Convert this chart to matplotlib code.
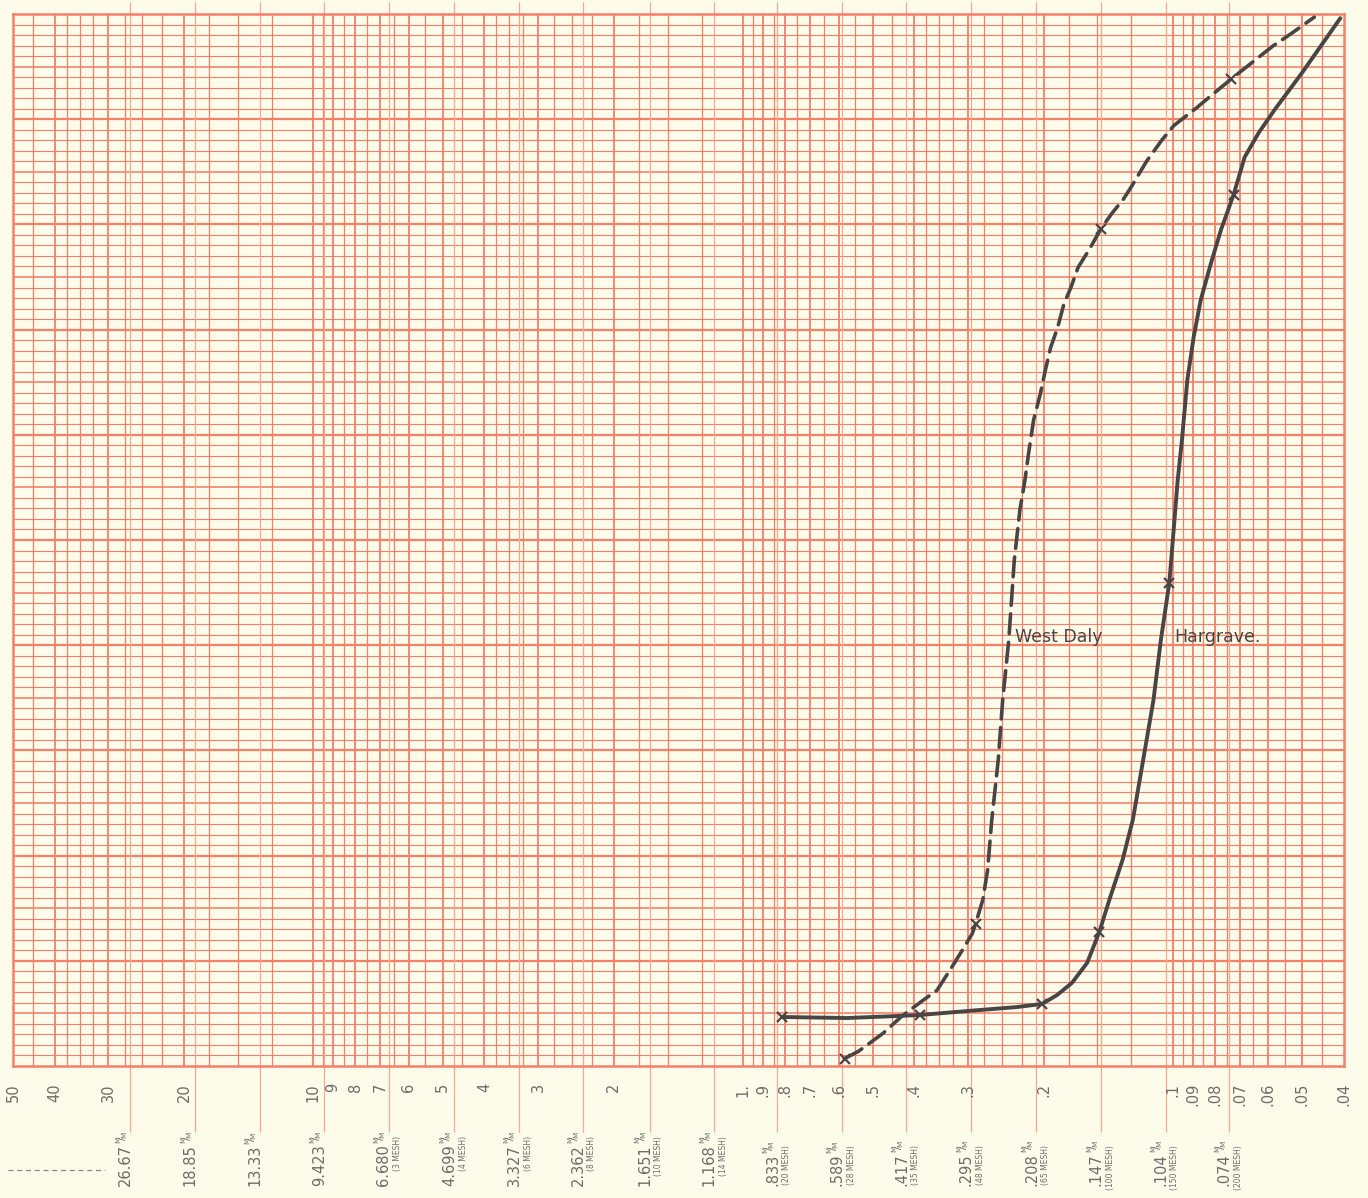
import numpy as np
import matplotlib
matplotlib.use("Agg")
import matplotlib.pyplot as plt
from matplotlib import font_manager as fm

# cumulative % passing vs. particle size (mm)
wd_size = [0.581, 0.539, 0.473, 0.427, 0.380, 0.354, 0.327, 0.306, 0.293, 0.288,
           0.277, 0.270, 0.264, 0.255, 0.249, 0.241, 0.234, 0.227, 0.221, 0.217,
           0.211, 0.2035, 0.198, 0.1926, 0.1855, 0.1795, 0.1728, 0.1663, 0.1567, 0.147,
           0.139, 0.1304, 0.1249, 0.1152, 0.1062, 0.0995, 0.088, 0.0812, 0.0733, 0.0654,
           0.0588, 0.0528, 0.0469]
wd_pct = [0.7, 1.4, 3.1, 4.75, 6.3, 7.2, 9.4, 11.3, 12.6, 13.5,
          15.8, 18.6, 23.4, 29.1, 34.8, 40.5, 48.1, 52.9, 55.7, 58.1,
          61.4, 63.9, 66.2, 68.3, 70.2, 72.4, 74.0, 75.9, 77.6, 79.6,
          81.0, 82.4, 83.6, 86.0, 88.0, 89.4, 91.1, 92.3, 93.8, 95.4,
          96.9, 98.2, 99.7]
wd_mark_size = [0.581, 0.288, 0.147, 0.0733]
wd_mark_pct = [0.7, 13.5, 79.6, 93.8]

hg_size = [0.813, 0.574, 0.439, 0.388, 0.286, 0.231, 0.2017, 0.186, 0.1718, 0.1584,
           0.1485, 0.1406, 0.131, 0.124, 0.1173, 0.111, 0.1067, 0.102, 0.0992, 0.0975,
           0.0953, 0.0926, 0.0895, 0.0862, 0.0816, 0.0773, 0.0723, 0.0681, 0.0632, 0.0580,
           0.0501, 0.0408]
hg_pct = [4.66, 4.56, 4.75, 4.85, 5.3, 5.6, 5.9, 6.75, 7.9, 9.8,
          12.7, 15.8, 19.6, 23.4, 29.1, 34.8, 40.5, 45.9, 51.9, 55.7,
          59.5, 65.2, 69.3, 72.8, 76.3, 79.5, 82.8, 86.4, 88.7, 90.9,
          94.4, 99.6]
hg_mark_size = [0.813, 0.388, 0.2017, 0.1485, 0.102, 0.0723]
hg_mark_pct = [4.66, 4.85, 5.9, 12.7, 45.9, 82.8]

# scale labels printed along the bottom of the paper
scale_vals = [50, 40, 30, 20, 10, 9, 8, 7, 6, 5, 4, 3, 2, 1, .9, .8, .7, .6, .5, .4,
              .3, .2, .1, .09, .08, .07, .06, .05, .04]
scale_text = ["50", "40", "30", "20", "10", "9", "8", "7", "6", "5", "4", "3", "2", "1.",
              ".9", ".8", ".7", ".6", ".5", ".4", ".3", ".2", ".1", ".09", ".08", ".07",
              ".06", ".05", ".04"]
mesh_vals = [26.67, 18.85, 13.33, 9.423, 6.680, 4.699, 3.327, 2.362, 1.651, 1.168,
             .833, .589, .417, .295, .208, .147, .104, .074]
mesh_text = ["26.67", "18.85", "13.33", "9.423", "6.680", "4.699", "3.327", "2.362",
             "1.651", "1.168", ".833", ".589", ".417", ".295", ".208", ".147", ".104", ".074"]
mesh_sub = ["", "", "", "", "(3 MESH)", "(4 MESH)", "(6 MESH)", "(8 MESH)", "(10 MESH)",
            "(14 MESH)", "(20 MESH)", "(28 MESH)", "(35 MESH)", "(48 MESH)", "(65 MESH)",
            "(100 MESH)", "(150 MESH)", "(200 MESH)"]

paper = "#fdfbea"
red = "#f4806a"
red_light = "#f7a893"
ink = "#4a4545"
print_grey = "#6e6c68"

try:
    fm.findfont("Liberation Sans Narrow", fallback_to_default=False)
    num_font = "Liberation Sans Narrow"
    num_size = 13.5
except Exception:
    num_font = "DejaVu Sans"
    num_size = 10.5

W, H = 1368, 1198
fig = plt.figure(figsize=(W / 100, H / 100), dpi=100, facecolor=paper)
ax = fig.add_axes([13 / W, (H - 1066) / H, 1331 / W, 1052 / H])
ax.set_facecolor(paper)
ax.set_xscale("log")
ax.set_xlim(50, 0.04)
ax.set_ylim(0, 100)
ax.set_xticks([])
ax.set_yticks([])
ax.minorticks_off()
for sp in ax.spines.values():
    sp.set_color(red)
    sp.set_linewidth(1.8)

# log-paper vertical rulings
grid_x = []
for dec in [0.01, 0.1, 1, 10]:
    for m in list(np.arange(1, 4, 0.25)) + list(np.arange(4, 10, 0.5)):
        v = round(m * dec, 6)
        if 0.04 < v < 50:
            grid_x.append(v)
major_x = [v for v in grid_x if v in scale_vals]
minor_x = [v for v in grid_x if v not in scale_vals]
ax.vlines(minor_x, 0, 100, color=red, lw=0.9, zorder=1)
ax.vlines(major_x, 0, 100, color=red, lw=1.3, zorder=1)

# linear horizontal rulings
for p in range(1, 100):
    lw = 1.6 if p % 10 == 0 else (1.15 if p % 5 == 0 else 0.8)
    ax.axhline(p, color=red, lw=lw, zorder=1)

xt = ax.get_xaxis_transform()
ax.vlines(mesh_vals, -66 / 1052, 1 + 12 / 1052, transform=xt, color=red_light,
          lw=0.9, zorder=1, clip_on=False)

for v, s in zip(scale_vals, scale_text):
    ax.text(v, -17 / 1052, s, transform=xt, rotation=90, ha="center", va="top",
            family=num_font, fontsize=num_size, color=print_grey)

for v, s, sub in zip(mesh_vals, mesh_text, mesh_sub):
    t = ax.annotate(s, xy=(v, -120 / 1052), xycoords=xt, xytext=(-3.5, 0),
                    textcoords="offset points", rotation=90, ha="center", va="bottom",
                    family=num_font, fontsize=num_size, color=print_grey,
                    annotation_clip=False)
    ax.annotate(r"$\mathregular{^M\!\!/\!_M}$", xy=(0.5, 1), xycoords=t,
                xytext=(-2.5, 0), textcoords="offset points", rotation=90,
                ha="center", va="bottom", fontsize=7.5, color=print_grey,
                annotation_clip=False)
    if sub:
        ax.annotate(sub, xy=(1, 1), xycoords=t, xytext=(1.5, 6),
                    textcoords="offset points", rotation=90, ha="left", va="top",
                    family=num_font, fontsize=5.5, color=print_grey,
                    annotation_clip=False)

# curves
ax.plot(wd_size, wd_pct, color=ink, lw=2.6, dashes=(5.5, 2.4), zorder=5,
        solid_capstyle="round", dash_capstyle="round", solid_joinstyle="round")
ax.plot(wd_mark_size, wd_mark_pct, "x", color=ink, ms=7, mew=1.6, zorder=6)
ax.plot(hg_size, hg_pct, color=ink, lw=2.8, zorder=5, solid_capstyle="round",
        solid_joinstyle="round")
ax.plot(hg_mark_size, hg_mark_pct, "x", color=ink, ms=7, mew=1.6, zorder=6)

ax.text(0.233, 40.8, "West Daly", ha="left", va="center", fontsize=12.5,
        color=ink, family="DejaVu Sans", zorder=6)
ax.text(0.0994, 40.8, "Hargrave.", ha="left", va="center", fontsize=12.5,
        color=ink, family="DejaVu Sans", zorder=6)

# little dashed stroke in the lower left corner
fig.add_artist(plt.Line2D([8 / W, 105 / W], [1 - 1170 / H, 1 - 1170 / H],
                          color="#8a8682", lw=0.9, dashes=(4, 3)))

fig.savefig("out.png", dpi=100, facecolor=paper)
